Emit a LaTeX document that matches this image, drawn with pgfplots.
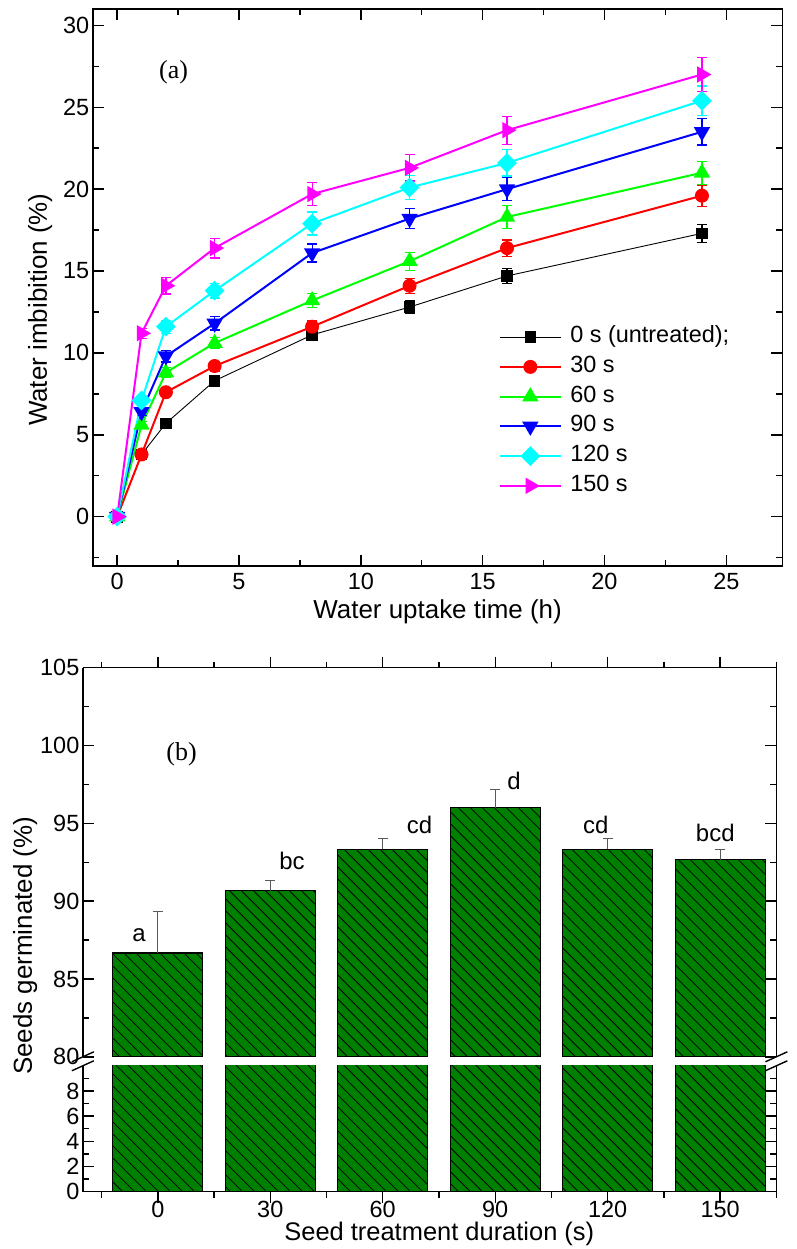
\documentclass[border=0pt]{standalone}
\usepackage{fontspec}
\setmainfont{Liberation Sans}
\newfontfamily\serifa{Liberation Serif}
\usepackage{pgfplots}
\pgfplotsset{compat=1.18}
\usetikzlibrary{patterns.meta}

\definecolor{bargreen}{RGB}{0,128,0}
\definecolor{mygreen}{RGB}{0,255,0}
\definecolor{mycyan}{RGB}{0,255,255}
\definecolor{mymag}{RGB}{255,0,255}

\pgfplotsset{
  myaxis/.style={
    scale only axis,
    tick align=inside,
    major tick length=11pt,
    minor tick length=6pt,
    axis line style={line width=1.6pt},
    every tick/.style={line width=1.4pt, black},
    /pgf/number format/assume math mode=true,
    xticklabel style={font=\fontsize{23.5}{23.5}\selectfont, anchor=base, yshift=-24pt},
    yticklabel style={font=\fontsize{23.5}{23.5}\selectfont},
  },
  series/.style={line width=2pt, mark size=#1,
    error bars/y dir=both, error bars/y explicit,
    error bars/error bar style={line width=1.2pt},
    error bars/error mark options={rotate=90, mark size=5pt, line width=1.2pt}},
  barstyle/.style={fill=bargreen, draw=black, line width=1.2pt,
    postaction={pattern={Lines[angle=-45,distance=8.5pt,line width=0.8pt]}}},
}

\begin{document}
\begin{tikzpicture}
\path (0,0) rectangle (798pt,-1249pt);

% ---------- (a) water imbibition ----------
\begin{axis}[myaxis,
  at={(93pt,-9pt)}, anchor=north west,
  width=691pt, height=558pt,
  xmin=-1, xmax=27.3, ymin=-3, ymax=31,
  xtick={0,5,...,25}, minor xtick={2.5,7.5,...,22.5},
  ytick={0,5,...,30}, minor ytick={-2.5,2.5,...,27.5},
  xlabel={Water uptake time (h)},
  ylabel={Water imbibition (\%)},
  xlabel style={font=\fontsize{26}{26}\selectfont, at={(axis description cs:0.5,0)}, anchor=base, yshift=-53pt},
  ylabel style={font=\fontsize{26}{26}\selectfont, at={(axis description cs:-0.0666,0.46)}, anchor=base},
  legend style={draw=none, fill=none, at={(axis description cs:0.585,0.437)},
    anchor=north west, font=\fontsize{23.5}{23.5}\selectfont,
    row sep=4.8pt, column sep=6pt, nodes={text height=16pt, text depth=5pt}},
  legend cell align=left,
  legend image code/.code={\draw[mark repeat=2,mark phase=2,#1]
    plot coordinates {(0pt,0pt) (30pt,0pt) (61pt,0pt)};},
]
\addplot[black, mark=square*, series=5.3pt, line width=0.9pt]
coordinates {(0,0) +- (0,0.1) (1,3.8) +- (0,0.15) (2,5.7) +- (0,0.2)
  (4,8.3) +- (0,0.25) (8,11.1) +- (0,0.3) (12,12.8) +- (0,0.4)
  (16,14.7) +- (0,0.45) (24,17.3) +- (0,0.55)};
\addlegendentry{0 s (untreated);}
\addplot[red, mark=*, series=6pt] coordinates {(0,0) +- (0,0.1) (1,3.8) +- (0,0.2)
  (2,7.6) +- (0,0.25) (4,9.2) +- (0,0.3) (8,11.6) +- (0,0.35)
  (12,14.1) +- (0,0.45) (16,16.4) +- (0,0.5) (24,19.6) +- (0,0.65)};
\addlegendentry{30 s}
\addplot[mygreen, mark=triangle*, series=7.5pt] coordinates {(0,0) +- (0,0.1) (1,5.6) +- (0,0.2)
  (2,8.8) +- (0,0.3) (4,10.6) +- (0,0.35) (8,13.2) +- (0,0.45)
  (12,15.6) +- (0,0.55) (16,18.3) +- (0,0.7) (24,21.0) +- (0,0.7)};
\addlegendentry{60 s}
\addplot[blue, mark=triangle*, mark options={rotate=180}, series=7.5pt] coordinates {(0,0) +- (0,0.1) (1,6.4) +- (0,0.2)
  (2,9.8) +- (0,0.35) (4,11.8) +- (0,0.4) (8,16.1) +- (0,0.55)
  (12,18.2) +- (0,0.6) (16,20.0) +- (0,0.7) (24,23.5) +- (0,0.8)};
\addlegendentry{90 s}
\addplot[mycyan, mark=square*, mark options={rotate=45}, series=6pt] coordinates {(0,0) +- (0,0.1) (1,7.1) +- (0,0.2)
  (2,11.6) +- (0,0.4) (4,13.8) +- (0,0.45) (8,17.9) +- (0,0.7)
  (12,20.1) +- (0,0.75) (16,21.6) +- (0,0.8) (24,25.4) +- (0,0.9)};
\addlegendentry{120 s}
\addplot[mymag, mark=triangle*, mark options={rotate=-90}, series=7.5pt] coordinates {(0,0) +- (0,0.1) (1,11.2) +- (0,0.3)
  (2,14.1) +- (0,0.5) (4,16.4) +- (0,0.6) (8,19.7) +- (0,0.7)
  (12,21.3) +- (0,0.8) (16,23.6) +- (0,0.85) (24,27.0) +- (0,1.05)};
\addlegendentry{150 s}
\end{axis}
\node[font=\serifa\fontsize{26}{26}\selectfont] at (174pt,-72pt) {(a)};

% ---------- (b) germination, upper part ----------
\begin{axis}[
  at={(83pt,-669pt)}, anchor=north west,
  width=695pt, height=390pt,
  axis on top,
  axis x line*=top, axis y line*=box,
  x axis line style={-}, y axis line style={-},
  myaxis,
  xmin=-20, xmax=165, ymin=80, ymax=105,
  xtick={0,30,...,150}, minor xtick={-15,15,...,165},
  xticklabels={},
  ytick={80,85,...,105}, minor ytick={82.5,87.5,...,102.5},
  ybar, bar width=24,
  ylabel={Seeds germinated (\%)},
  ylabel style={font=\fontsize{26}{26}\selectfont, rotate=0, at={(axis description cs:-0.0734,0.285)}, anchor=base},
]
\addplot[barstyle,
  error bars/.cd, y dir=plus, y explicit,
  error bar style={line width=1.2pt, black!65},
  error mark options={rotate=90, mark size=5pt, line width=1.2pt, black!65}]
coordinates {(0,86.67) +- (0,2.67) (30,90.67) +- (0,0.67) (60,93.33) +- (0,0.67)
  (90,96.0) +- (0,1.15) (120,93.33) +- (0,0.67) (150,92.67) +- (0,0.67)};
\begin{scope}[font=\fontsize{24}{24}\selectfont]
\node at (axis cs:-5,87.8) {a};
\node at (axis cs:35.8,92.56) {bc};
\node at (axis cs:69.8,94.87) {cd};
\node at (axis cs:95,97.7) {d};
\node at (axis cs:116.8,94.87) {cd};
\node at (axis cs:148.7,94.36) {bcd};
\end{scope}
\end{axis}
\node[font=\serifa\fontsize{26}{26}\selectfont] at (182pt,-756pt) {(b)};

% ---------- (b) germination, lower part ----------
\begin{axis}[
  at={(83pt,-1068pt)}, anchor=north west,
  width=695pt, height=126pt,
  axis on top,
  axis x line*=bottom, axis y line*=box,
  x axis line style={-}, y axis line style={-},
  myaxis,
  xticklabel style={yshift=9pt},
  xmin=-20, xmax=165, ymin=0, ymax=10,
  xtick={0,30,...,150}, minor xtick={-15,15,...,165},
  ytick={0,2,...,8}, minor ytick={1,3,...,9},
  ybar, bar width=24,
  xlabel={Seed treatment duration (s)},
  xlabel style={font=\fontsize{25.5}{25.5}\selectfont, at={(axis description cs:0.514,0)}, anchor=base, yshift=-49pt},
]
\addplot[barstyle] coordinates {(0,86.67) (30,90.67) (60,93.33) (90,96.0) (120,93.33) (150,92.67)};
\end{axis}

% axis break marks
\foreach \xx in {83,778} {
  \draw[line width=1.4pt] (\xx pt-11pt,-1064pt) -- (\xx pt+11pt,-1054pt);
  \draw[line width=1.4pt] (\xx pt-11pt,-1073pt) -- (\xx pt+11pt,-1063pt);
}
\end{tikzpicture}
\end{document}
